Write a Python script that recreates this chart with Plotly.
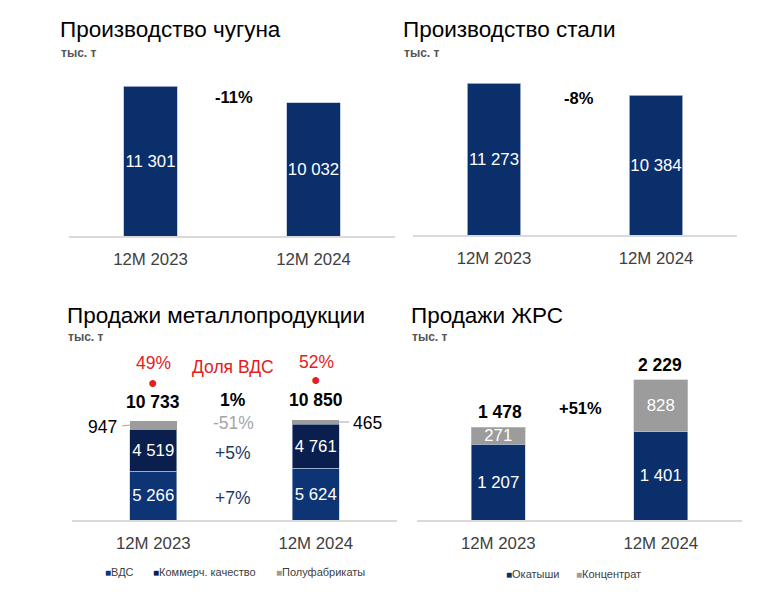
import plotly.graph_objects as go

# The page body has an 8px default margin, so the figure is drawn inside it.
OFF = 8
W, H = 758 - OFF, 603 - OFF

# ---------------- data ----------------
periods = ["12M 2023", "12M 2024"]

iron = [11301, 10032]
iron_change = "-11%"

steel = [11273, 10384]
steel_change = "-8%"

metal_vds = [5266, 5624]
metal_comm = [4519, 4761]
metal_semi = [947, 465]
metal_total = [10733, 10850]
vds_share = ["49%", "52%"]
metal_changes = {"total": "1%", "semi": "-51%", "comm": "+5%", "vds": "+7%"}

ore_pellets = [1207, 1401]
ore_conc = [271, 828]
ore_total = [1478, 2229]
ore_change = "+51%"

titles = ["Производство чугуна", "Производство стали", "Продажи металлопродукции", "Продажи ЖРС"]
unit = "тыс. т"
legend_metal = ["ВДС", "Коммерч. качество", "Полуфабрикаты"]
legend_ore = ["Окатыши", "Концентрат"]

# ---------------- style ----------------
FONT = "Liberation Sans, Arial, sans-serif"
NAVY = "#0B2F6B"
VDS_C = "#0D3475"
COMM_C = "#0B1F4E"
GRAY = "#9C9C9C"
RED = "#E3211C"
EDGE = "#B7C4DB"


def fmt(v):
    return f"{v:,}".replace(",", " ")


def px(x):
    return (x - OFF) / W


def py(y):
    return 1 - (y - OFF) / H


def xd(a, b):
    return [px(a), px(b)]


def yd(top, bottom):
    return [py(bottom), py(top)]


fig = go.Figure()

inside_font = dict(color="white", size=16.8, family=FONT)


def bar(x, y, xa, ya, color, width, name, text=True, edge=EDGE, ew=0.8):
    fig.add_trace(go.Bar(
        x=x, y=y, xaxis=xa, yaxis=ya, marker_color=color,
        marker_line=dict(color=edge, width=ew), width=width, name=name,
        text=[fmt(v) for v in y] if text else None,
        textposition="inside" if text else "none", insidetextanchor="middle",
        textangle=0, textfont=inside_font, showlegend=False, constraintext="none"))


bar(periods, iron, "x", "y", NAVY, 0.33, "Чугун")
bar(periods, steel, "x2", "y2", NAVY, 0.33, "Сталь")
bar(periods, metal_vds, "x3", "y3", VDS_C, 0.29, legend_metal[0], ew=0.6)
bar(periods, metal_comm, "x3", "y3", COMM_C, 0.29, legend_metal[1], ew=0.6)
bar(periods, metal_semi, "x3", "y3", GRAY, 0.29, legend_metal[2], text=False, ew=0)
bar(periods, ore_pellets, "x4", "y4", NAVY, 0.33, legend_ore[0], ew=0.6)
bar(periods, ore_conc, "x4", "y4", GRAY, 0.33, legend_ore[1], edge="#C8C8C8", ew=0.6)

xcommon = dict(type="category", range=[-0.5, 1.5], showline=True, linecolor="#D9D9D9", linewidth=1.5,
               ticks="", showgrid=False, zeroline=False, fixedrange=True,
               tickfont=dict(size=16.8, color="#404040", family=FONT), ticklabelstandoff=7)
ycommon = dict(visible=False, showgrid=False, zeroline=False, fixedrange=True)

fig.update_layout(
    width=W, height=H, margin=dict(l=0, r=0, t=0, b=0),
    paper_bgcolor="white", plot_bgcolor="white", barmode="stack",
    font=dict(family=FONT, color="#000000"), showlegend=False,
    xaxis=dict(domain=xd(69, 395), anchor="y", **xcommon),
    yaxis=dict(domain=yd(66, 236), anchor="x", range=[0, 170 / 0.01327], **ycommon),
    xaxis2=dict(domain=xd(413, 737), anchor="y2", **xcommon),
    yaxis2=dict(domain=yd(65, 235), anchor="x2", range=[0, 170 / 0.01348], **ycommon),
    xaxis3=dict(domain=xd(72, 397), anchor="y3", **xcommon),
    yaxis3=dict(domain=yd(350, 520), anchor="x3", range=[0, 170 / 0.00922], **ycommon),
    xaxis4=dict(domain=xd(417, 742), anchor="y4", **xcommon),
    yaxis4=dict(domain=yd(350, 520), anchor="x4", range=[0, 170 / 0.0629], **ycommon),
)

ann = []


def A(text, x, y, size=16, color="#000000", xanchor="center", bold=False):
    t = f"<b>{text}</b>" if bold else text
    ann.append(dict(text=t, x=px(x), y=py(y), xref="paper", yref="paper", showarrow=False,
                    xanchor=xanchor, yanchor="middle", font=dict(size=size, color=color, family=FONT)))


# titles and units
title_pos = [(58, 30, 53), (401, 30, 53), (65, 315, 337), (409, 315, 337)]
for t, (x, y, yu) in zip(titles, title_pos):
    A(t, x, y, size=22.5, xanchor="left")
    A(unit, x + 1, yu, size=12, color="#555555", xanchor="left", bold=True)

# panel 1 & 2 changes
A(iron_change, 234, 97, size=16.5, bold=True)
A(steel_change, 579, 98, size=16.5, bold=True)

# panel 3 annotations
A(vds_share[0], 153, 363, size=17.5, color=RED)
A(vds_share[1], 316, 362, size=17.5, color=RED)
A("●", 153, 382, size=16, color=RED)
A("●", 316, 379, size=16, color=RED)
A("Доля ВДС", 233, 367, size=17.5, color=RED)
A(fmt(metal_total[0]), 153, 402, size=17.5, bold=True)
A(fmt(metal_total[1]), 316, 400, size=17.5, bold=True)
A(metal_changes["total"], 233, 400, size=17.5, bold=True)
A(fmt(metal_semi[0]), 119, 427, size=17.5, xanchor="right")
A(fmt(metal_semi[1]), 351, 423, size=17.5, xanchor="left")
A(metal_changes["semi"], 233, 423, size=17.5, color="#A6A6A6")
A(metal_changes["comm"], 233, 453, size=17.5, color="#1F3864")
A(metal_changes["vds"], 233, 498, size=17.5, color="#1F3864")

# leader lines for small segments
shapes = [
    dict(type="line", xref="paper", yref="paper", x0=px(122), x1=px(130), y0=py(426), y1=py(425),
         line=dict(color="#A6A6A6", width=1)),
    dict(type="line", xref="paper", yref="paper", x0=px(339), x1=px(349), y0=py(422), y1=py(422),
         line=dict(color="#A6A6A6", width=1)),
]

# panel 4 annotations
A(fmt(ore_total[0]), 500, 412, size=17.5, bold=True)
A(fmt(ore_total[1]), 660, 365, size=17.5, bold=True)
A(ore_change, 580, 408, size=16.5, bold=True)


# legends (text entries with coloured squares)
def L(label, color, x, y):
    ann.append(dict(text=f"<span style='color:{color};font-size:10px'>■</span>{label}",
                    x=px(x), y=py(y), xref="paper", yref="paper", showarrow=False,
                    xanchor="left", yanchor="middle", font=dict(size=11, color="#404040", family=FONT)))


for lab, col, x in zip(legend_metal, [VDS_C, COMM_C, GRAY], [103, 151, 274]):
    L(lab, col, x, 572)
for lab, col, x in zip(legend_ore, [NAVY, GRAY], [504, 574]):
    L(lab, col, x, 574)

fig.update_layout(annotations=ann, shapes=shapes)
fig.write_html("out.html")
